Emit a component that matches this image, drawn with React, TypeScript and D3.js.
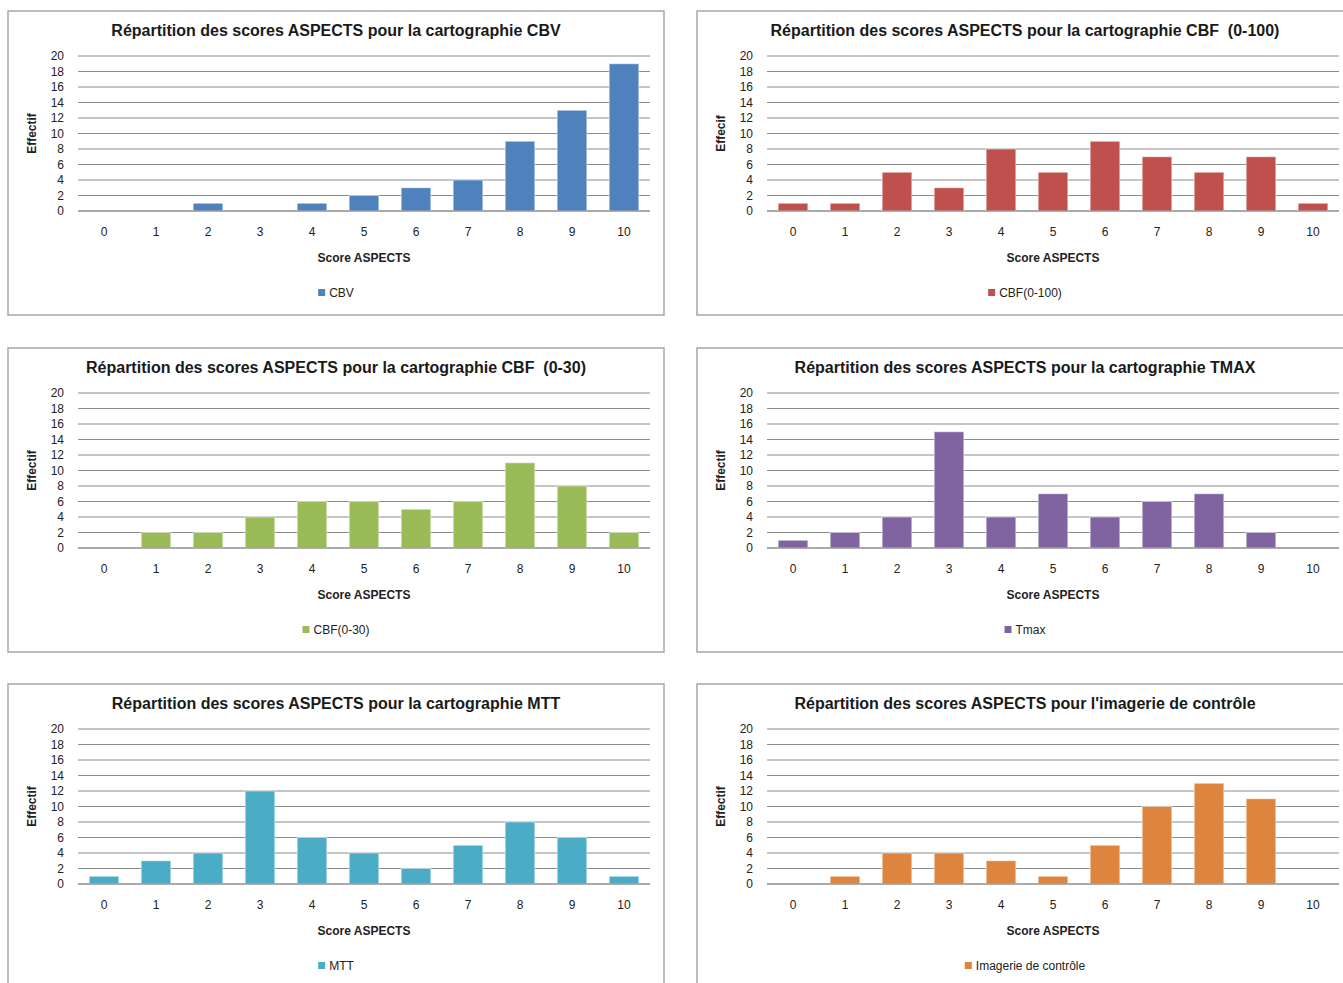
import React, { useEffect, useRef } from "react";
import * as d3 from "d3";

const scores = ["0", "1", "2", "3", "4", "5", "6", "7", "8", "9", "10"];
const yTicks = [0, 2, 4, 6, 8, 10, 12, 14, 16, 18, 20];

const cbv = [0, 0, 1, 0, 1, 2, 3, 4, 9, 13, 19];
const cbf100 = [1, 1, 5, 3, 8, 5, 9, 7, 5, 7, 1];
const cbf30 = [0, 2, 2, 4, 6, 6, 5, 6, 11, 8, 2];
const tmax = [1, 2, 4, 15, 4, 7, 4, 6, 7, 2, 0];
const mtt = [1, 3, 4, 12, 6, 4, 2, 5, 8, 6, 1];
const controle = [0, 1, 4, 4, 3, 1, 5, 10, 13, 11, 0];

const titles = [
  "Répartition des scores ASPECTS pour la cartographie CBV",
  "Répartition des scores ASPECTS pour la cartographie CBF  (0-100)",
  "Répartition des scores ASPECTS pour la cartographie CBF  (0-30)",
  "Répartition des scores ASPECTS pour la cartographie TMAX",
  "Répartition des scores ASPECTS pour la cartographie MTT",
  "Répartition des scores ASPECTS pour l'imagerie de contrôle",
];
const legends = ["CBV", "CBF(0-100)", "CBF(0-30)", "Tmax", "MTT", "Imagerie de contrôle"];
const yLabels = ["Effectif", "Effecif", "Effectif", "Effectif", "Effectif", "Effectif"];
const colors = ["#4F81BD", "#C0504D", "#9BBB59", "#8064A2", "#4BACC6", "#DD843F"];
const series = [cbv, cbf100, cbf30, tmax, mtt, controle];

const W = 1343;
const H = 983;
const font = "'Liberation Sans', Arial, sans-serif";

export default function App() {
  const ref = useRef<SVGSVGElement>(null);

  useEffect(() => {
    const svg = d3.select(ref.current);
    svg.selectAll("*").remove();

    const panelW = 656;
    const panelH = 304;
    const plot = { left: 70, right: 642, top: 45, bottom: 200 };

    const x = d3
      .scaleBand()
      .domain(scores)
      .range([plot.left, plot.right])
      .paddingInner(0.43)
      .paddingOuter(0.215);
    const y = d3.scaleLinear().domain([0, 20]).range([plot.bottom, plot.top]);

    series.forEach((values, i) => {
      const col = i % 2;
      const row = Math.floor(i / 2);
      const ox = col === 0 ? 8 : 697;
      const oy = [11, 348, 684][row];
      const g = svg.append("g").attr("transform", `translate(${ox},${oy})`);

      // panel frame
      g.append("rect")
        .attr("x", 0)
        .attr("y", 0)
        .attr("width", panelW)
        .attr("height", panelH)
        .attr("fill", "#fff")
        .attr("stroke", "#a6a6a6")
        .attr("stroke-width", 1.5);

      g.append("text")
        .attr("x", panelW / 2)
        .attr("y", 25)
        .attr("text-anchor", "middle")
        .attr("font-weight", "bold")
        .attr("font-size", 16)
        .attr("fill", "#1a1a1a")
        .style("white-space", "pre")
        .text(titles[i]);

      // gridlines
      g.append("g")
        .selectAll("line")
        .data(yTicks)
        .join("line")
        .attr("x1", plot.left)
        .attr("x2", plot.right)
        .attr("y1", (d) => y(d))
        .attr("y2", (d) => y(d))
        .attr("stroke", "#8c8c8c")
        .attr("stroke-width", 1);

      g.append("g")
        .selectAll("text")
        .data(yTicks)
        .join("text")
        .attr("x", 56)
        .attr("y", (d) => y(d) + 4)
        .attr("text-anchor", "end")
        .attr("font-size", 12)
        .attr("fill", "#222")
        .text((d) => d);

      g.append("text")
        .attr("transform", `translate(28,${(plot.top + plot.bottom) / 2}) rotate(-90)`)
        .attr("text-anchor", "middle")
        .attr("font-weight", "bold")
        .attr("font-size", 12)
        .attr("fill", "#222")
        .text(yLabels[i]);

      g.append("g")
        .selectAll("rect")
        .data(values)
        .join("rect")
        .attr("x", (_, j) => x(scores[j]) as number)
        .attr("y", (d) => y(d))
        .attr("width", x.bandwidth())
        .attr("height", (d) => y(0) - y(d))
        .attr("fill", colors[i])
        .attr("stroke", (d) => (d > 0 ? "rgba(255,255,255,0.5)" : "none"))
        .attr("stroke-width", 1);

      // baseline over bars
      g.append("line")
        .attr("x1", plot.left)
        .attr("x2", plot.right)
        .attr("y1", y(0))
        .attr("y2", y(0))
        .attr("stroke", "#8c8c8c");

      g.append("g")
        .selectAll("text")
        .data(scores)
        .join("text")
        .attr("x", (d) => (x(d) as number) + x.bandwidth() / 2)
        .attr("y", 225)
        .attr("text-anchor", "middle")
        .attr("font-size", 12)
        .attr("fill", "#222")
        .text((d) => d);

      g.append("text")
        .attr("x", (plot.left + plot.right) / 2)
        .attr("y", 251)
        .attr("text-anchor", "middle")
        .attr("font-weight", "bold")
        .attr("font-size", 12)
        .attr("fill", "#222")
        .text("Score ASPECTS");

      // legend
      const lg = g.append("g");
      const lt = lg
        .append("text")
        .attr("x", 11)
        .attr("y", 286)
        .attr("font-size", 12)
        .attr("fill", "#222")
        .text(legends[i]);
      lg.append("rect")
        .attr("x", 0)
        .attr("y", 278)
        .attr("width", 7)
        .attr("height", 7)
        .attr("fill", colors[i]);
      const tw = (lt.node() as SVGTextElement).getComputedTextLength();
      lg.attr("transform", `translate(${328 - (tw + 11) / 2},0)`);
    });
  }, []);

  return (
    <svg
      ref={ref}
      width={W}
      height={H}
      style={{ position: "absolute", left: 0, top: 0, fontFamily: font, background: "#fff" }}
    />
  );
}
